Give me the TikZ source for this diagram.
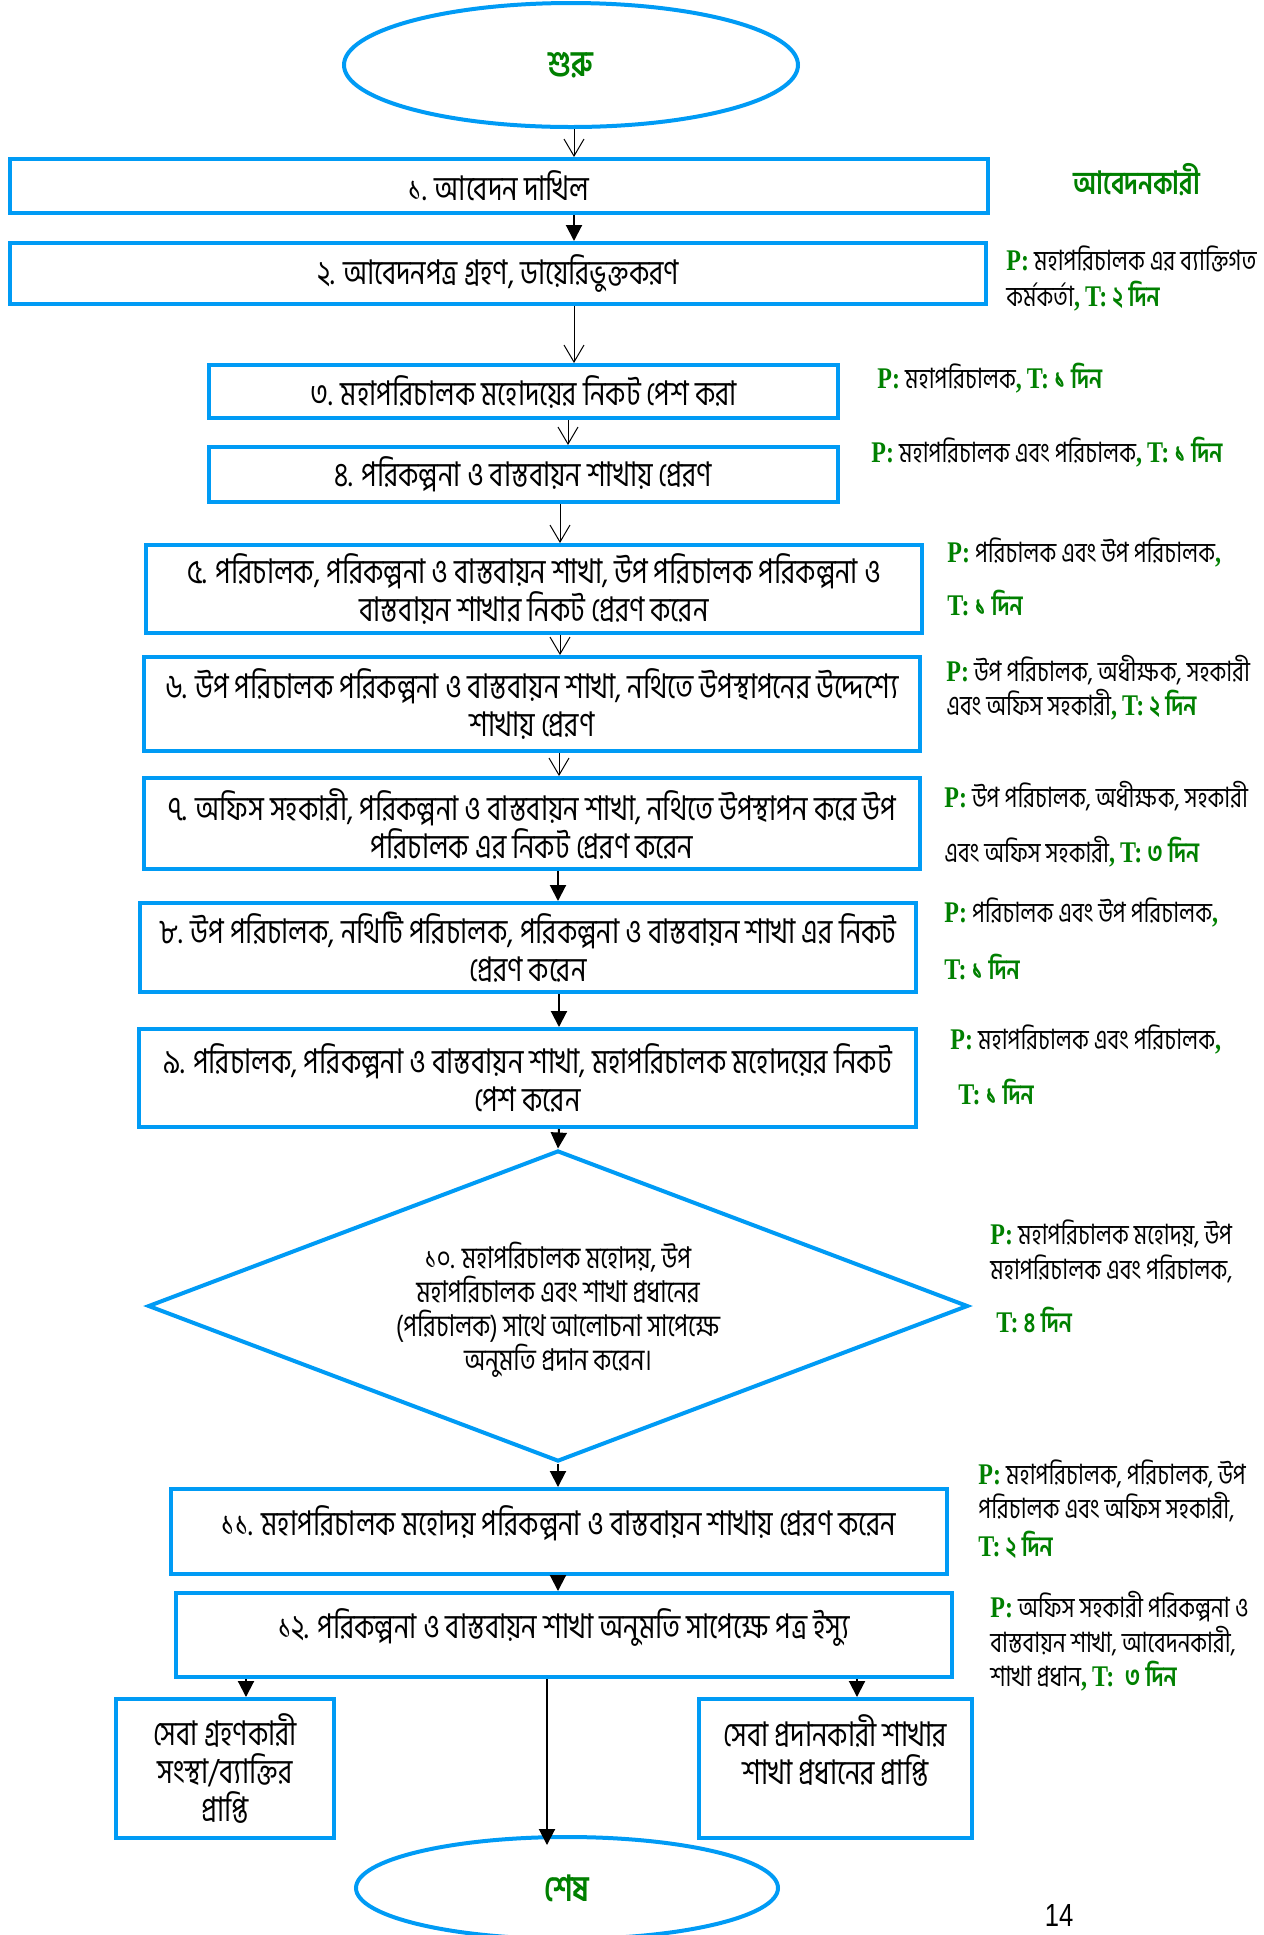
\documentclass[tikz,border=0pt]{standalone}
\usepackage{fontspec}
\setmainfont[FakeStretch=0.8]{Liberation Serif}
\newfontfamily\bn[Script=Bengali,FakeStretch=0.8]{Hind Siliguri}
\newfontfamily\sn[FakeStretch=0.8]{Liberation Sans}
\usetikzlibrary{shapes.geometric,arrows.meta}
\definecolor{bblue}{RGB}{0,155,245}
\definecolor{dgreen}{RGB}{0,128,0}
\tikzset{
  box/.style={draw=bblue, line width=2pt, inner sep=0pt, align=center,
    font=\bn\fontsize{17}{19}\selectfont},
  oval/.style={ellipse, draw=bblue, line width=2pt, inner sep=0pt,
    font=\bn\bfseries\fontsize{18}{20}\selectfont, text=dgreen},
  openarr/.style={-{Straight Barb[length=8.5pt,width=10pt]}, line width=0.5pt},
  fillarr/.style={-{Triangle[length=8pt,width=8pt]}, line width=1pt},
  lbl/.style={anchor=west, inner sep=0pt, text height=9.5pt, text depth=2.5pt,
    font=\bn\fontsize{14}{16}\selectfont}
}
\newcommand\mybox[6]{\node[box, minimum width={(#4-#2)*0.5pt}, minimum height={(#5-#3)*0.5pt}] (#1) at ({(#2+#4)/2},{(#3+#5)/2}) {#6};}
\newcommand\Pp{{\rmfamily\bfseries\fontsize{15}{16}\selectfont\color{dgreen}P:} }
\newcommand\Tt[1]{{\color{dgreen}\rmfamily\bfseries\fontsize{15}{16}\selectfont T:\,\bn\bfseries\fontsize{14}{16}\selectfont #1}}
\newcommand\gc{{\color{dgreen}\rmfamily\bfseries\fontsize{15}{16}\selectfont ,}}
\begin{document}
\begin{tikzpicture}[x=0.5pt,y=-0.5pt]
\fill[white] (0,0) rectangle (1264,1935);
\useasboundingbox (0,0) rectangle (1264,1935);

% start / end
\node[oval, minimum width=227pt, minimum height=62pt] (start) at (571,65) {শুরু};
\node[oval, minimum width=211pt, minimum height=51pt] (end) at (567,1888) {শেষ};

% boxes
\mybox{b1}{10}{159}{988}{213}{১. আবেদন দাখিল}
\mybox{b2}{10}{243}{986}{304}{২. আবেদনপত্র গ্রহণ, ডায়েরিভুক্তকরণ}
\mybox{b3}{209}{365}{838}{418}{৩. মহাপরিচালক মহোদয়ের নিকট পেশ করা}
\mybox{b4}{209}{447}{838}{502}{৪. পরিকল্পনা ও বাস্তবায়ন শাখায় প্রেরণ}
\mybox{b5}{146}{545}{922}{633}{৫. পরিচালক, পরিকল্পনা ও বাস্তবায়ন শাখা, উপ পরিচালক পরিকল্পনা ও\\বাস্তবায়ন শাখার নিকট প্রেরণ করেন}
\mybox{b6}{144}{657}{920}{751}{৬. উপ পরিচালক পরিকল্পনা ও বাস্তবায়ন শাখা, নথিতে উপস্থাপনের উদ্দেশ্যে\\শাখায় প্রেরণ}
\mybox{b7}{144}{778}{920}{869}{৭. অফিস সহকারী, পরিকল্পনা ও বাস্তবায়ন শাখা, নথিতে উপস্থাপন করে উপ\\পরিচালক এর নিকট প্রেরণ করেন}
\mybox{b8}{140}{903}{916}{992}{৮. উপ পরিচালক, নথিটি পরিচালক, পরিকল্পনা ও বাস্তবায়ন শাখা এর নিকট\\প্রেরণ করেন}
\mybox{b9}{139}{1029}{916}{1127}{৯. পরিচালক, পরিকল্পনা ও বাস্তবায়ন শাখা, মহাপরিচালক মহোদয়ের নিকট\\পেশ করেন}
\node[diamond, draw=bblue, line width=2pt, inner sep=0pt, aspect=2.6,
  minimum width=410pt, minimum height=155.5pt, align=center,
  font=\bn\fontsize{15}{17}\selectfont] (d10) at (558,1306)
  {\rule{0pt}{17pt}১০. মহাপরিচালক মহোদয়, উপ\\মহাপরিচালক এবং শাখা প্রধানের\\(পরিচালক) সাথে আলোচনা সাপেক্ষে\\অনুমতি প্রদান করেন।};
\mybox{b11}{171}{1489}{947}{1574}{১১. মহাপরিচালক মহোদয় পরিকল্পনা ও বাস্তবায়ন শাখায় প্রেরণ করেন\\[-8pt]\mbox{}}
\mybox{b12}{176}{1593}{952}{1677}{১২. পরিকল্পনা ও বাস্তবায়ন শাখা অনুমতি সাপেক্ষে পত্র ইস্যু\\[-8pt]\mbox{}}
\mybox{bL}{116}{1699}{334}{1838}{\fontsize{17}{20}\selectfont সেবা গ্রহণকারী\\সংস্থা/ব্যাক্তির\\প্রাপ্তি}
\mybox{bR}{699}{1699}{972}{1838}{\fontsize{17}{20}\selectfont সেবা প্রদানকারী শাখার\\শাখা প্রধানের প্রাপ্তি\\\mbox{}}

% arrow columns
\coordinate (xa) at (574,0);
\coordinate (xb) at (568,0);
\coordinate (xc) at (560,0);
\coordinate (xd) at (559,0);
\coordinate (xe) at (558,0);
\coordinate (xl) at (246,0);
\coordinate (xr) at (857,0);
\coordinate (xm) at (547,0);

\draw[openarr] (start.south -| xa) -- (b1.north -| xa);
\draw[fillarr] (b1.south -| xa) -- (b2.north -| xa);
\draw[openarr] (b2.south -| xa) -- (b3.north -| xa);
\draw[openarr] (b3.south -| xb) -- (b4.north -| xb);
\draw[openarr] (b4.south -| xc) -- (b5.north -| xc);
\draw[openarr] (b5.south -| xc) -- (b6.north -| xc);
\draw[openarr] (b6.south -| xd) -- (b7.north -| xd);
\draw[fillarr] (b7.south -| xe) -- (b8.north -| xe);
\draw[fillarr] (b8.south -| xd) -- (b9.north -| xd);
\draw[fillarr] (b9.south -| xd) -- (d10.north);
\draw[fillarr] (d10.south) -- (b11.north -| d10.south);
\draw[fillarr] (b11.south -| xe) -- (b12.north -| xe);
\draw[fillarr] (b12.south -| xl) -- (bL.north -| xl);
\draw[fillarr] (b12.south -| xr) -- (bR.north -| xr);
\draw[fillarr] (b12.south -| xm) -- ([yshift=-5pt]end.north -| xm);

% right-hand labels
\node[lbl, font=\bn\bfseries\fontsize{16}{18}\selectfont, text=dgreen] (l1) at (1073,187) {আবেদনকারী};
\node[lbl] (l2a) at (1006,263) {\Pp মহাপরিচালক এর ব্যাক্তিগত};
\node[lbl] (l2b) at (1006,299) {কর্মকর্তা\gc{} \Tt{২ দিন}};
\node[lbl] (l3) at (877,381) {\Pp মহাপরিচালক\gc{} \Tt{১ দিন}};
\node[lbl] (l4) at (871,455) {\Pp মহাপরিচালক এবং পরিচালক\gc{} \Tt{১ দিন}};
\node[lbl] (l5a) at (947,555) {\Pp পরিচালক এবং উপ পরিচালক\gc};
\node[lbl] (l5b) at (947,608) {\Tt{১ দিন}};
\node[lbl] (l6a) at (946,674) {\Pp উপ পরিচালক, অধীক্ষক, সহকারী};
\node[lbl] (l6b) at (946,708) {এবং অফিস সহকারী\gc{} \Tt{২ দিন}};
\node[lbl] (l7a) at (944,800) {\Pp উপ পরিচালক, অধীক্ষক, সহকারী};
\node[lbl] (l7b) at (944,855) {এবং অফিস সহকারী\gc{} \Tt{৩ দিন}};
\node[lbl] (l8a) at (944,915) {\Pp পরিচালক এবং উপ পরিচালক\gc};
\node[lbl] (l8b) at (944,972) {\Tt{১ দিন}};
\node[lbl] (l9a) at (950,1042) {\Pp মহাপরিচালক এবং পরিচালক\gc};
\node[lbl] (l9b) at (958,1097) {\Tt{১ দিন}};
\node[lbl] (l10a) at (990,1237) {\Pp মহাপরিচালক মহোদয়, উপ};
\node[lbl] (l10b) at (990,1272) {মহাপরিচালক এবং পরিচালক,};
\node[lbl] (l10c) at (996,1325) {\Tt{৪ দিন}};
\node[lbl] (l11a) at (978,1477) {\Pp মহাপরিচালক, পরিচালক, উপ};
\node[lbl] (l11b) at (978,1511) {পরিচালক এবং অফিস সহকারী,};
\node[lbl] (l11c) at (978,1549) {\Tt{২ দিন}};
\node[lbl] (l12a) at (990,1610) {\Pp অফিস সহকারী পরিকল্পনা ও};
\node[lbl] (l12b) at (990,1645) {বাস্তবায়ন শাখা, আবেদনকারী,};
\node[lbl] (l12c) at (990,1679) {শাখা প্রধান\gc{} \Tt{\ ৩ দিন}};

\node[anchor=center, inner sep=0pt, font=\sn\fontsize{16}{18}\selectfont] (pg) at (1059,1915) {14};
\end{tikzpicture}
\end{document}
